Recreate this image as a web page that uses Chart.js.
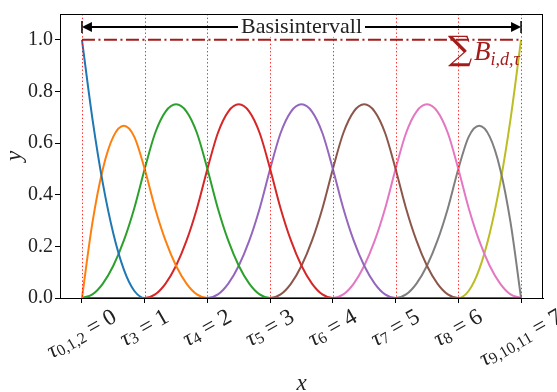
<!DOCTYPE html>
<html>
<head>
<meta charset="utf-8">
<script src="https://cdn.jsdelivr.net/npm/chart.js@4.4.0/dist/chart.umd.min.js"></script>
<style>
  body { margin: 0; background: #fff; }
  #wrap { width: 557px; height: 392px; }
</style>
</head>
<body>
<div id="wrap"><canvas id="splines"></canvas></div>
<script>
// knot vector tau = [0,0,0,1,2,3,4,5,6,7,7,7], quadratic basis
const knots = [0, 1, 2, 3, 4, 5, 6, 7];
const knotSubs = ['0,1,2', '3', '4', '5', '6', '7', '8', '9,10,11'];
const yTicks = [0, 0.2, 0.4, 0.6, 0.8, 1.0];

const xs = [0, 0.167, 0.333, 0.5, 0.667, 0.833,
  1, 1.167, 1.333, 1.5, 1.667, 1.833,
  2, 2.167, 2.333, 2.5, 2.667, 2.833,
  3, 3.167, 3.333, 3.5, 3.667, 3.833,
  4, 4.167, 4.333, 4.5, 4.667, 4.833,
  5, 5.167, 5.333, 5.5, 5.667, 5.833,
  6, 6.167, 6.333, 6.5, 6.667, 6.833,
  7];

const b0 = [1, 0.694, 0.444, 0.25, 0.111, 0.028,
  0, 0, 0, 0, 0, 0,  0, 0, 0, 0, 0, 0,  0, 0, 0, 0, 0, 0,
  0, 0, 0, 0, 0, 0,  0, 0, 0, 0, 0, 0,  0, 0, 0, 0, 0, 0,  0];
const b1 = [0, 0.292, 0.5, 0.625, 0.667, 0.625,
  0.5, 0.347, 0.222, 0.125, 0.056, 0.014,
  0, 0, 0, 0, 0, 0,  0, 0, 0, 0, 0, 0,  0, 0, 0, 0, 0, 0,
  0, 0, 0, 0, 0, 0,  0, 0, 0, 0, 0, 0,  0];
const b2 = [0, 0.014, 0.056, 0.125, 0.222, 0.347,
  0.5, 0.639, 0.722, 0.75, 0.722, 0.639,
  0.5, 0.347, 0.222, 0.125, 0.056, 0.014,
  0, 0, 0, 0, 0, 0,  0, 0, 0, 0, 0, 0,  0, 0, 0, 0, 0, 0,  0, 0, 0, 0, 0, 0,  0];
const b3 = [0, 0, 0, 0, 0, 0,
  0, 0.014, 0.056, 0.125, 0.222, 0.347,
  0.5, 0.639, 0.722, 0.75, 0.722, 0.639,
  0.5, 0.347, 0.222, 0.125, 0.056, 0.014,
  0, 0, 0, 0, 0, 0,  0, 0, 0, 0, 0, 0,  0, 0, 0, 0, 0, 0,  0];
const b4 = [0, 0, 0, 0, 0, 0,  0, 0, 0, 0, 0, 0,
  0, 0.014, 0.056, 0.125, 0.222, 0.347,
  0.5, 0.639, 0.722, 0.75, 0.722, 0.639,
  0.5, 0.347, 0.222, 0.125, 0.056, 0.014,
  0, 0, 0, 0, 0, 0,  0, 0, 0, 0, 0, 0,  0];
const b5 = [0, 0, 0, 0, 0, 0,  0, 0, 0, 0, 0, 0,  0, 0, 0, 0, 0, 0,
  0, 0.014, 0.056, 0.125, 0.222, 0.347,
  0.5, 0.639, 0.722, 0.75, 0.722, 0.639,
  0.5, 0.347, 0.222, 0.125, 0.056, 0.014,
  0, 0, 0, 0, 0, 0,  0];
const b6 = [0, 0, 0, 0, 0, 0,  0, 0, 0, 0, 0, 0,  0, 0, 0, 0, 0, 0,  0, 0, 0, 0, 0, 0,
  0, 0.014, 0.056, 0.125, 0.222, 0.347,
  0.5, 0.639, 0.722, 0.75, 0.722, 0.639,
  0.5, 0.347, 0.222, 0.125, 0.056, 0.014,
  0];
const b7 = [0, 0, 0, 0, 0, 0,  0, 0, 0, 0, 0, 0,  0, 0, 0, 0, 0, 0,  0, 0, 0, 0, 0, 0,
  0, 0, 0, 0, 0, 0,
  0, 0.014, 0.056, 0.125, 0.222, 0.347,
  0.5, 0.625, 0.667, 0.625, 0.5, 0.292,
  0];
const b8 = [0, 0, 0, 0, 0, 0,  0, 0, 0, 0, 0, 0,  0, 0, 0, 0, 0, 0,  0, 0, 0, 0, 0, 0,
  0, 0, 0, 0, 0, 0,  0, 0, 0, 0, 0, 0,
  0, 0.028, 0.111, 0.25, 0.444, 0.694,
  1];

const basis = [b0, b1, b2, b3, b4, b5, b6, b7, b8];
const colors = ['#1f77b4', '#ff7f0e', '#2ca02c', '#d62728', '#9467bd', '#8c564b', '#e377c2', '#7f7f7f', '#bcbd22'];
const sumLevel = 1.0;
const arrowLevel = 1.05;

const serif = '"Liberation Serif", "DejaVu Serif", serif';
const sumRed = '#a31c1c';

function line(ctx, x0, y0, x1, y1) {
  ctx.beginPath(); ctx.moveTo(x0, y0); ctx.lineTo(x1, y1); ctx.stroke();
}

// draws text pieces [text, size, italic, dy, family] one after another
function pieces(ctx, parts, x, y, measureOnly) {
  let w = 0;
  parts.forEach(p => {
    ctx.font = (p[2] ? 'italic ' : '') + p[1] + 'px ' + (p[4] || serif);
    if (!measureOnly) ctx.fillText(p[0], x + w, y + (p[3] || 0));
    w += ctx.measureText(p[0]).width;
  });
  return w;
}

const overlay = {
  id: 'overlay',
  afterDatasetsDraw(chart) {
    const {ctx, chartArea: a, scales: {x, y}} = chart;
    ctx.save();

    // knot lines
    ctx.strokeStyle = 'rgba(255,0,0,0.85)';
    ctx.lineWidth = 1;
    ctx.setLineDash([1.4, 2.3]);
    knots.forEach(k => {
      const px = Math.round(x.getPixelForValue(k)) + 0.5;
      line(ctx, px, a.top, px, a.bottom);
    });

    // sum of basis functions
    const x0 = x.getPixelForValue(knots[0]);
    const x1 = x.getPixelForValue(knots[knots.length - 1]);
    const sy = y.getPixelForValue(sumLevel);
    ctx.strokeStyle = sumRed;
    ctx.lineWidth = 2;
    ctx.setLineDash([13, 3.5, 2, 3.5]);
    line(ctx, x0, sy, x1, sy);
    ctx.setLineDash([]);

    ctx.fillStyle = sumRed;
    ctx.textBaseline = 'alphabetic';
    const sumParts = [['\u2211', 34, false, 0, '"DejaVu Serif", serif'], [' ', 7, false], ['B', 27, true], ['i,d,\u03c4', 18, true, 5]];
    const sw = pieces(ctx, sumParts, 0, 0, true);
    pieces(ctx, sumParts, x1 - 1 - sw, sy + 20, false);

    // Basisintervall arrow
    const ay = y.getPixelForValue(arrowLevel);
    ctx.strokeStyle = '#000';
    ctx.fillStyle = '#000';
    ctx.lineWidth = 2;
    line(ctx, x0 + 6, ay, x1 - 6, ay);
    ctx.lineWidth = 1.5;
    line(ctx, x0, ay - 6, x0, ay + 6);
    line(ctx, x1, ay - 6, x1, ay + 6);
    ctx.beginPath();
    ctx.moveTo(x0, ay); ctx.lineTo(x0 + 10, ay - 5); ctx.lineTo(x0 + 10, ay + 5); ctx.closePath(); ctx.fill();
    ctx.beginPath();
    ctx.moveTo(x1, ay); ctx.lineTo(x1 - 10, ay - 5); ctx.lineTo(x1 - 10, ay + 5); ctx.closePath(); ctx.fill();

    ctx.font = '22px ' + serif;
    const label = 'Basisintervall';
    const tw = ctx.measureText(label).width;
    const cx = (x0 + x1) / 2;
    ctx.fillStyle = '#fff';
    ctx.fillRect(cx - tw / 2 - 3, ay - 12, tw + 6, 22);
    ctx.fillStyle = '#222';
    ctx.textAlign = 'center';
    ctx.fillText(label, cx, ay + 6);
    ctx.restore();
  },
  afterDraw(chart) {
    const {ctx, chartArea: a, scales: {x}} = chart;
    ctx.save();
    // top and right spines
    ctx.strokeStyle = '#000';
    ctx.lineWidth = 1;
    line(ctx, a.left, a.top + 0.5, a.right, a.top + 0.5);
    line(ctx, a.right - 0.5, a.top, a.right - 0.5, a.bottom);

    // rotated knot labels
    ctx.fillStyle = '#222';
    ctx.textAlign = 'left';
    ctx.textBaseline = 'middle';
    const ang = Math.PI / 6;
    knots.forEach((k, i) => {
      const parts = [['\u03c4', 23, true], [knotSubs[i], 16, false, 4], [' = ' + k, 23, false]];
      const w = pieces(ctx, parts, 0, 0, true);
      const h = 22;
      const H = w * Math.sin(ang) + h * Math.cos(ang);
      const cx = x.getPixelForValue(k);
      const cy = a.bottom + 8 + H / 2;
      ctx.save();
      ctx.translate(cx, cy);
      ctx.rotate(-ang);
      pieces(ctx, parts, -w / 2, 0, false);
      ctx.restore();
    });

    // axis titles
    ctx.textAlign = 'center';
    ctx.textBaseline = 'alphabetic';
    ctx.font = 'italic 23px ' + serif;
    ctx.fillText('x', (a.left + a.right) / 2, 390);
    ctx.save();
    ctx.translate(21, (a.top + a.bottom) / 2);
    ctx.rotate(-Math.PI / 2);
    ctx.fillText('y', 0, 0);
    ctx.restore();
    ctx.restore();
  }
};

const splineChart = new Chart(document.getElementById('splines'), {
  type: 'line',
  data: {
    datasets: basis.map((ys, i) => ({
      data: xs.map((v, j) => ({x: v, y: ys[j]})),
      borderColor: colors[i],
      borderWidth: 2,
      pointRadius: 0,
      fill: false,
      cubicInterpolationMode: 'monotone'
    }))
  },
  options: {
    responsive: true,
    maintainAspectRatio: false,
    animation: false,
    layout: { padding: { top: 13, right: 14, left: 0, bottom: 0 } },
    plugins: { legend: { display: false }, tooltip: { enabled: false } },
    scales: {
      x: {
        type: 'linear',
        min: -0.35,
        max: 7.35,
        afterBuildTicks: s => { s.ticks = knots.map(v => ({value: v})); },
        afterFit: s => { s.height = 94; },
        ticks: { display: false },
        grid: { drawOnChartArea: false, drawTicks: true, tickLength: 5, color: '#000' },
        border: { color: '#000', width: 1 }
      },
      y: {
        min: 0,
        max: 1.1,
        afterBuildTicks: s => { s.ticks = yTicks.map(v => ({value: v})); },
        afterFit: s => { s.width = 60; },
        ticks: {
          padding: 2,
          color: '#222',
          font: { family: serif, size: 20 },
          callback: v => v.toFixed(1)
        },
        grid: { drawOnChartArea: false, drawTicks: true, tickLength: 5, color: '#000' },
        border: { color: '#000', width: 1 }
      }
    }
  },
  plugins: [overlay]
});
</script>
</body>
</html>
